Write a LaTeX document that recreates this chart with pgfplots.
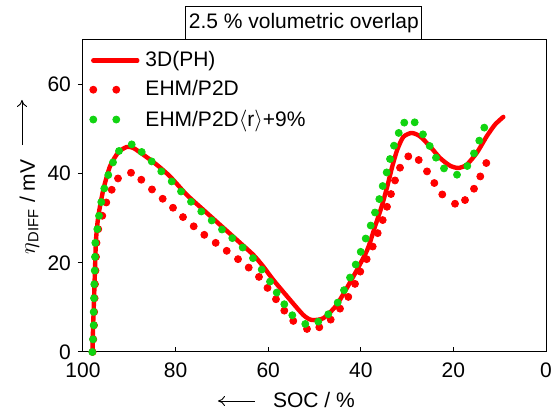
\documentclass[border=0pt]{standalone}
\usepackage{pgfplots}
\pgfplotsset{compat=1.18}
\usepackage{fontspec}
\setmainfont{Liberation Sans}
\usetikzlibrary{calc,arrows.meta}
\definecolor{ptred}{RGB}{255,0,0}
\definecolor{ptgreen}{RGB}{17,212,17}

\begin{document}
\begin{tikzpicture}[font=\fontsize{10.5}{12.6}\selectfont]
\begin{axis}[
    scale only axis, width=231.5pt, height=156pt,
    x dir=reverse,
    xmin=0, xmax=100, ymin=0, ymax=70,
    xtick={0,20,40,60,80,100}, ytick={0,20,40,60},
    xtick pos=left, ytick pos=left,
    xtick align=inside, ytick align=outside,
    major tick length=2.5pt,
    axis line style={line width=0.5pt},
    tick style={black, line width=0.5pt},
    /pgf/number format/assume math mode=true,
    xticklabel style={yshift=-2pt},
    clip=false,
    legend cell align=left,
    legend style={draw=none, fill=none, at={(0,1)}, anchor=north west,
        xshift=3pt, yshift=-4.5pt, inner sep=0pt, row sep=3.5pt,
        nodes={inner sep=1pt},
        /tikz/every odd column/.append style={column sep=2pt}},
]

% 3D(PH) -- durchgezogene Linie
\addplot[ptred, line width=2.2pt, line cap=round, line join=round, smooth, tension=0.4,
    legend image code/.code={\path[draw=none, fill=none] (-1pt,-2pt) rectangle (23pt,2pt);
        \draw[ptred, line width=2.2pt, line cap=round] (0pt,0pt) -- (22pt,0pt);}]
coordinates {
(97.95,0) (97.84,4.94) (97.62,11.69) (97.41,18.43) (97.19,25.17) (96.70,30.40)
(95.62,36.40) (94.17,41.64) (92.38,44.79) (90.56,46.0) (89.14,45.78) (86.98,44.27)
(84.08,42.02) (81.21,39.39) (77.60,35.28) (74.02,31.91) (70.41,28.54) (66.80,25.17)
(63.22,21.80) (61.06,19.17) (58.90,16.18) (56.00,12.58) (52.42,8.31) (50.60,7.19)
(48.10,7.57) (45.21,10.56) (41.62,16.92) (38.60,22.92) (36.93,28.16) (35.49,32.65)
(34.28,37.15) (33.20,41.64) (32.12,45.39) (30.82,48.25) (29.01,49.15) (27.21,48.38)
(25.05,46.13) (22.89,43.53) (20.73,41.80) (18.94,41.28) (17.13,42.02) (14.97,44.65)
(12.81,48.38) (11.02,51.01) (9.22,52.74)
};
\addlegendentry{3D(PH)}

% EHM/P2D
\addplot[only marks, mark=*, mark size=1.75pt, ptred, mark options={draw=none, fill=ptred},
    legend image code/.code={\path[draw=none, fill=none] (-1pt,-2pt) rectangle (23pt,2pt);
        \fill[ptred] (0pt,0pt) circle (1.75pt); \fill[ptred] (11.5pt,0pt) circle (1.75pt);}]
coordinates {
(97.93,0) (97.78,2.85) (97.62,6.0) (97.58,8.99) (97.49,12.07) (97.41,15.21)
(97.30,18.27) (97.19,21.35) (97.08,24.49) (96.70,27.57) (95.83,30.56) (94.97,33.55)
(93.80,36.40) (92.44,38.94) (89.63,40.22) (87.41,38.65) (85.10,36.47) (82.79,34.38)
(80.56,32.36) (78.40,30.27) (76.09,28.20) (73.80,26.29) (71.34,24.49) (68.96,22.70)
(66.52,20.83) (64.21,18.94) (61.99,16.85) (60.15,14.38) (58.32,11.84) (56.52,9.28)
(54.58,6.97) (51.62,5.17) (48.96,5.55) (46.50,7.26) (44.49,9.73) (42.70,12.36)
(41.25,15.28) (40.11,18.04) (38.73,20.83) (37.43,23.66) (36.35,26.67) (35.27,29.60)
(34.34,32.58) (33.48,35.44) (32.61,38.49) (31.53,41.35) (29.74,43.89) (27.49,43.08)
(25.70,40.52) (24.12,37.91) (22.40,35.35) (19.65,33.26) (17.49,34.09) (15.55,36.63)
(14.19,39.39) (12.89,42.40)
};
\addlegendentry{EHM/P2D}

% EHM/P2D<r>+9%
\addplot[only marks, mark=*, mark size=1.75pt, ptgreen, mark options={draw=none, fill=ptgreen},
    legend image code/.code={\path[draw=none, fill=none] (-1pt,-2pt) rectangle (23pt,2pt);
        \fill[ptgreen] (0pt,0pt) circle (1.75pt); \fill[ptgreen] (11.5pt,0pt) circle (1.75pt);}]
coordinates {
(97.99,0) (97.84,2.85) (97.69,6.0) (97.69,8.99) (97.62,12.07) (97.56,15.21)
(97.47,18.27) (97.41,21.35) (97.34,24.49) (96.91,27.57) (96.54,30.56) (96.05,33.64)
(95.40,36.70) (94.54,39.71) (93.52,42.54) (92.22,45.10) (89.48,46.58) (87.32,44.88)
(85.16,42.76) (83.09,40.52) (80.84,38.27) (78.83,36.02) (76.67,33.71) (74.45,31.53)
(72.20,29.51) (69.98,27.48) (67.75,25.55) (65.51,23.44) (63.28,21.06) (61.40,18.49)
(59.61,15.80) (58.16,13.33) (56.52,10.72) (54.79,8.25) (51.99,6.29) (49.18,6.81)
(47.02,8.47) (44.99,11.08) (43.63,13.87) (42.33,16.70) (41.10,19.62) (40.02,22.47)
(38.94,25.46) (37.86,28.38) (36.93,31.30) (36.00,34.31) (35.27,37.24) (34.41,40.29)
(33.69,43.30) (32.83,46.29) (31.81,49.15) (30.61,51.46) (28.36,51.53) (26.57,48.83)
(25.12,46.22) (23.76,43.60) (22.03,41.19) (19.22,39.78) (17.00,41.73) (15.55,44.56)
(14.41,47.42) (13.33,50.34)
};
\addlegendentry{EHM/P2D$\langle$r$\rangle$+9\%}

% Hilfspunkte fuer Rahmen und Beschriftungen
\coordinate (SW) at (axis description cs:0,0);
\coordinate (NE) at (axis description cs:1,1);

\node[draw, line width=0.5pt, fill=white, inner xsep=1.5pt, minimum height=16pt, anchor=south]
    at (axis description cs:0.477,1) {2.5 \% volumetric overlap};

\node[rotate=90, anchor=base] at ($(axis description cs:0,0.465)+(-24pt,0)$)
    {$\eta$\textsubscript{DIFF} / mV};
\draw[-{To[length=3.5pt,width=5pt]}, line width=0.45pt]
    ($(axis description cs:0,0.663)+(-30.5pt,0)$) -- ($(axis description cs:0,0.808)+(-30.5pt,0)$);

\node[anchor=west] at ($(axis description cs:0,0)+(91.5pt,-24pt)$) {SOC / \%};
\draw[-{To[length=3.5pt,width=5pt]}, line width=0.45pt]
    ($(axis description cs:0,0)+(86pt,-24.5pt)$) -- ($(axis description cs:0,0)+(67.5pt,-24.5pt)$);
\end{axis}

\pgfresetboundingbox
\path[use as bounding box] ($(SW)+(-41.5pt,-29.5pt)$) rectangle ($(NE)+(5pt,20pt)$);
\end{tikzpicture}
\end{document}
